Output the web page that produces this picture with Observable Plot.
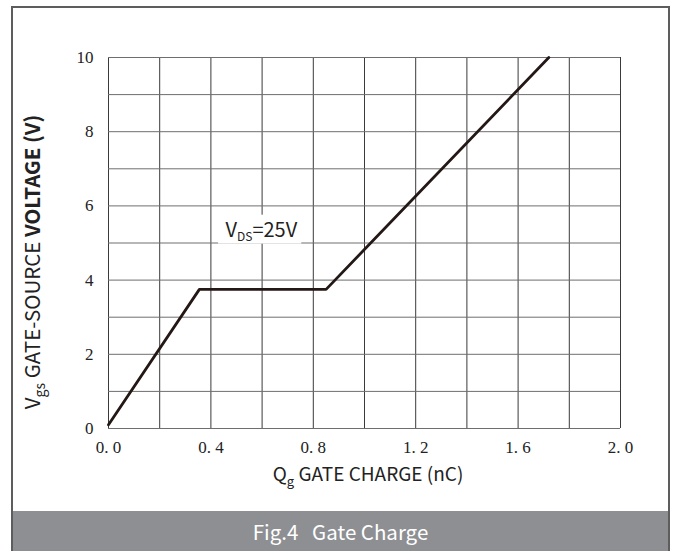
<!DOCTYPE html>
<html><head><meta charset="utf-8">
<script src="https://cdn.jsdelivr.net/npm/d3@7"></script>
<script src="https://cdn.jsdelivr.net/npm/@observablehq/plot@0.6"></script>
<style>
body{margin:0;background:#fff;}
#wrap{position:relative;width:675px;height:551px;overflow:hidden;background:#fff;}
#border{position:absolute;left:11px;top:6px;width:659px;height:580px;border:2px solid #5d5d5d;box-sizing:border-box;}
#chart{position:absolute;left:0;top:0;}
#caption{position:absolute;left:13px;top:511px;width:655px;height:40px;background:#8e8f93;color:#fff;
  font-family:"Noto Sans CJK SC","Noto Sans",sans-serif;font-size:20.5px;line-height:40px;text-align:center;white-space:pre;}
</style></head>
<body>
<div id="wrap">
  <div id="border"></div>
  <div id="chart"></div>
  <div id="caption">Fig.4   Gate Charge</div>
</div>
<script>
// Data
const charge = [0.0, 0.355, 0.85, 1.72];      // Qg (nC)
const voltage = [0.1, 3.75, 3.75, 10.0];      // Vgs (V)
const xTicks = [0, 0.4, 0.8, 1.2, 1.6, 2.0];
const yTicks = [0, 2, 4, 6, 8, 10];
const xGrid = [0, 0.2, 0.4, 0.6, 0.8, 1.0, 1.2, 1.4, 1.6, 1.8, 2.0];
const yGrid = [0, 1, 2, 3, 4, 5, 6, 7, 8, 9, 10];
const annotation = [{x: 0.457, y: 5.33, x1: 0.43, x2: 0.755, y1: 4.97, y2: 5.75, label: "VDS=25V"}];

const pts = charge.map((q, i) => ({q, v: voltage[i]}));

const plot = Plot.plot({
  width: 675,
  height: 511,
  marginLeft: 108,
  marginRight: 55,
  marginTop: 57,
  marginBottom: 83,
  style: {background: "transparent", fontFamily: "'Liberation Serif', serif", fontSize: "17px", color: "#222"},
  x: {domain: [0, 2], label: null},
  y: {domain: [0, 10], label: null},
  marks: [
    Plot.ruleX(xGrid, {stroke: "#3a3a3a", strokeWidth: 1}),
    Plot.ruleY(yGrid, {stroke: "#6e6e6e", strokeWidth: 1}),
    Plot.rect(annotation, {x1: "x1", x2: "x2", y1: "y1", y2: "y2", fill: "white"}),
    Plot.text(annotation, {x: "x", y: "y", text: "label", textAnchor: "start", fill: "#222",
      fontFamily: "'Noto Sans CJK SC','Noto Sans',sans-serif", fontSize: 20}),
    Plot.axisX(xTicks, {tickSize: 0, tickPadding: 12, tickFormat: d => d.toFixed(1).replace(".", ". "),
      fill: "#222", fontSize: 17}),
    Plot.axisY(yTicks, {tickSize: 0, tickPadding: 15, fill: "#222", fontSize: 17}),
    Plot.line(pts, {x: "q", y: "v", stroke: "#231815", strokeWidth: 2.8})
  ]
});
document.getElementById("chart").appendChild(plot);

const svg = d3.select(plot);
// tick label size (serif, as in the reference)
svg.selectAll("text").filter(function(){ return /^\d/.test(this.textContent); })
  .style("font-size", "17px", "important")
  .style("font-family", "'Liberation Serif', serif", "important");

// annotation subscript
const ann = svg.selectAll("text").filter(function(){ return this.textContent === "VDS=25V"; });
ann.text(null);
ann.append("tspan").text("V");
ann.append("tspan").attr("font-size", 12).attr("dy", 4).text("DS");
ann.append("tspan").attr("dy", -4).text("=25V");

const sansFont = "'Noto Sans CJK SC','Noto Sans',sans-serif";
// x-axis label
const xl = svg.append("text").attr("x", 368).attr("y", 481).attr("text-anchor", "middle")
  .attr("font-family", sansFont).attr("font-size", 19).attr("fill", "#222");
xl.append("tspan").text("Q");
xl.append("tspan").attr("font-size", 13).attr("dy", 5).text("g");
xl.append("tspan").attr("dy", -5).text(" GATE CHARGE (nC)");

// y-axis label
const yl = svg.append("text").attr("transform", "translate(40,262) rotate(-90)").attr("text-anchor", "middle")
  .attr("font-family", sansFont).attr("font-size", 20.5).attr("fill", "#222");
yl.append("tspan").text("V");
yl.append("tspan").attr("font-size", 14).attr("dy", 5).text("gs");
yl.append("tspan").attr("dy", -5).text(" GATE-SOURCE ");
yl.append("tspan").attr("font-weight", "bold").text("VOLTAGE (V)");
</script>
</body></html>
